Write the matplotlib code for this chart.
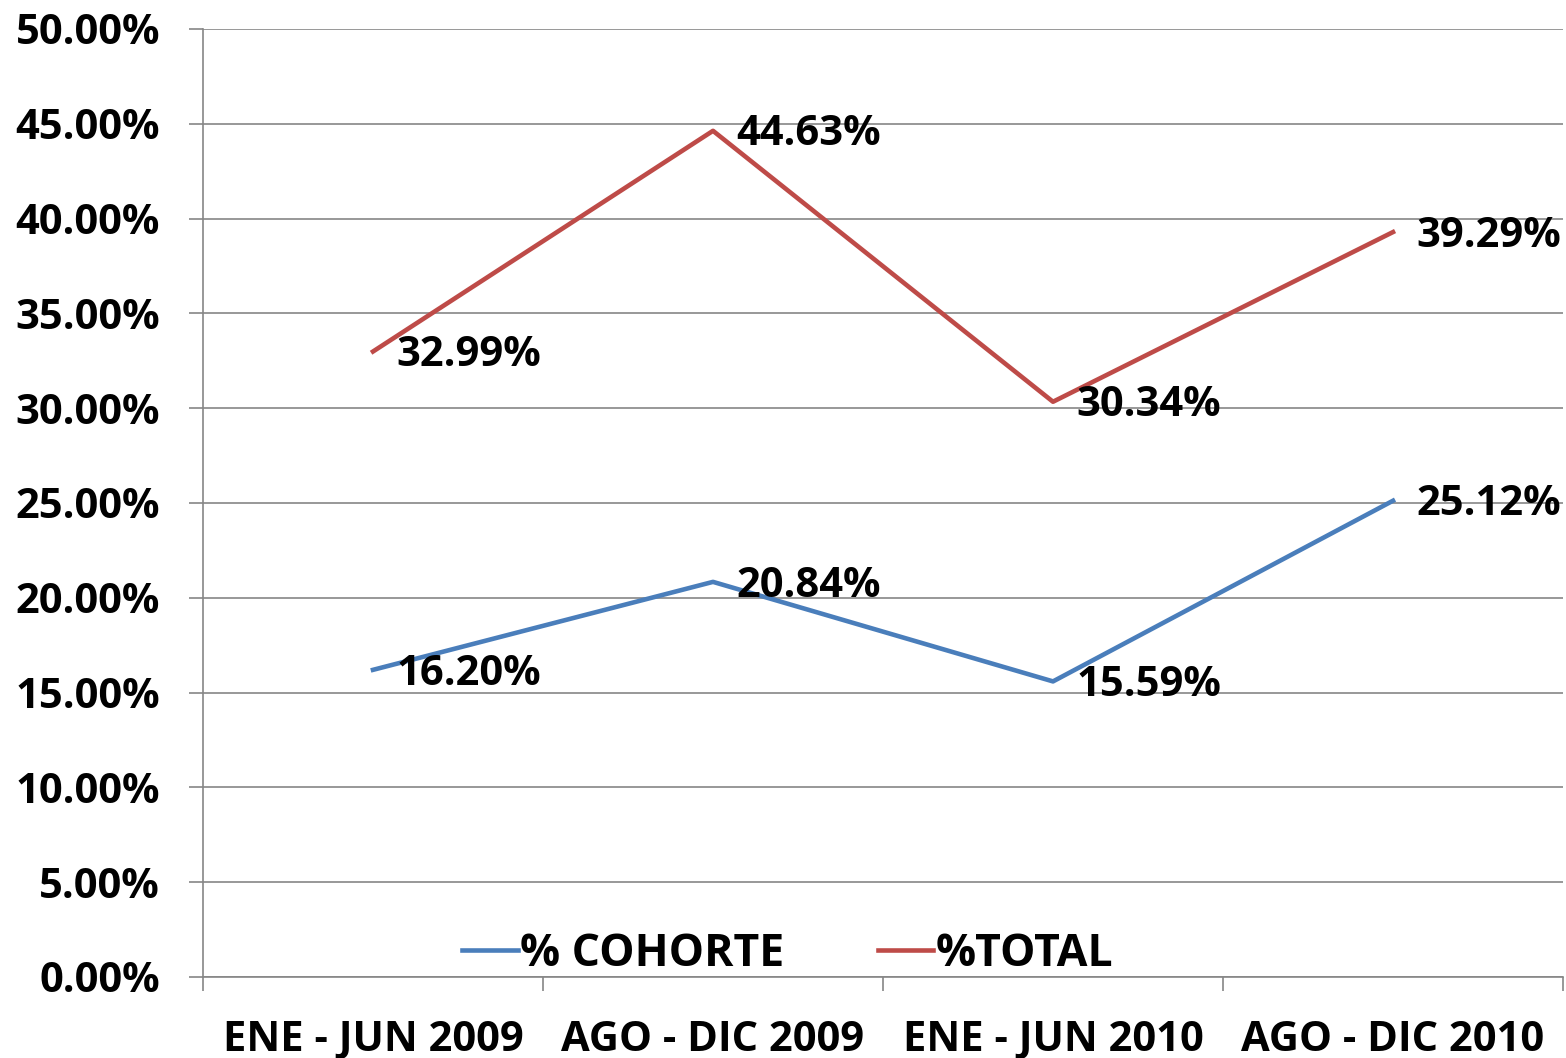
import matplotlib
matplotlib.use("Agg")
import matplotlib.pyplot as plt
from matplotlib.ticker import FixedLocator, FuncFormatter

# datos
periodos = ["ENE - JUN 2009", "AGO - DIC 2009", "ENE - JUN 2010", "AGO - DIC 2010"]
cohorte = [16.20, 20.84, 15.59, 25.12]
total = [32.99, 44.63, 30.34, 39.29]

plt.rcParams['font.family'] = ['Open Sans', 'DejaVu Sans']
plt.rcParams['font.weight'] = 'bold'

fig = plt.figure(figsize=(15.66, 10.58), dpi=100)
ax = fig.add_axes([203/1566, 1 - 977/1058, 1360/1566, 948/1058])

x = range(len(periodos))
l1, = ax.plot(x, cohorte, color="#4A7EBB", lw=3.3, label="% COHORTE")
l2, = ax.plot(x, total, color="#BE4B48", lw=3.3, label="%TOTAL")

for serie in (cohorte, total):
    for i, v in enumerate(serie):
        ax.annotate(f"{v:.2f}%", (i, v), xytext=(17, -3), textcoords="offset points",
                    va="center", ha="left", fontsize=30, fontweight="bold")

ax.set_xlim(-0.5, 3.5)
ax.set_ylim(0, 50)
ax.set_yticks(range(0, 51, 5))
ax.yaxis.set_major_formatter(FuncFormatter(lambda v, p: f"{v:.2f}%"))
ax.set_xticks(list(x))
ax.set_xticklabels(periodos)
ax.xaxis.set_minor_locator(FixedLocator([-0.5, 0.5, 1.5, 2.5, 3.5]))
ax.tick_params(axis="x", which="major", length=0, pad=31, labelsize=30)
ax.tick_params(axis="x", which="minor", length=10, color="#868686", width=1.2)
ax.tick_params(axis="y", length=10, color="#868686", width=1.2, labelsize=30, pad=21)
for t in ax.get_xticklabels() + ax.get_yticklabels():
    t.set_fontweight("bold")

ax.grid(axis="y", color="#868686", lw=1.2)
ax.set_axisbelow(True)
for s in ["top", "right"]:
    ax.spines[s].set_visible(False)
for s in ["left", "bottom"]:
    ax.spines[s].set_color("#868686")
    ax.spines[s].set_linewidth(1.2)

leg = ax.legend(handles=[l1, l2], loc="center", bbox_to_anchor=(0.43, 0.024), ncol=2,
                frameon=False, handlelength=1.25, handletextpad=0.05,
                columnspacing=2.1, borderpad=0, prop={"weight": "bold", "size": 32})

fig.savefig("out.png", dpi=100)
